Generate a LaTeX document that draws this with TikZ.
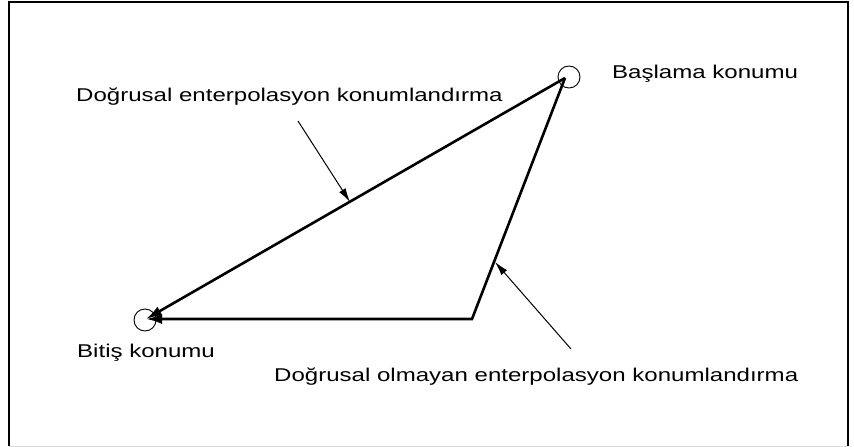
\documentclass[tikz,border=0pt]{standalone}
\usepackage{fontspec}
\setmainfont[FakeStretch=1.3]{Liberation Sans}
\usetikzlibrary{arrows.meta}
\begin{document}
\begin{tikzpicture}[x=1pt,y=-1pt,
  mainline/.style={line width=2.6pt,-{Latex[length=16pt,width=10pt]}},
  leader/.style={line width=1pt,-{Latex[length=14pt,width=7.5pt]}},
  posmark/.style={circle,draw,line width=0.9pt,minimum size=22pt,inner sep=0pt},
  lbl/.style={anchor=base west,inner sep=0pt,font=\fontsize{18.5}{20}\selectfont}]
\useasboundingbox (0,0) rectangle (854,447);
% frame
\draw[line width=1.5pt] (9,446) -- (9,2) -- (848,2) -- (848,446);
\draw[line width=0.8pt,black!15] (9,446) -- (848,446);
% position markers
\node[posmark] (S) at (569,77) {};
\node[posmark] (E) at (145,320) {};
\coordinate (Sp) at (565,78);
\coordinate (Ep) at (146,319);
\coordinate (C) at (472,319);
% paths
\draw[mainline] (Sp) -- (Ep);
\draw[mainline,line join=miter] (Sp) -- (C) -- (Ep);
% labels
\node[lbl] (T1) at (76,101) {Doğrusal enterpolasyon konumlandırma};
\node[lbl] (T2) at (612,78) {Başlama konumu};
\node[lbl] (T3) at (77,357) {Bitiş konumu};
\node[lbl] (T4) at (274,381) {Doğrusal olmayan enterpolasyon konumlandırma};
% leaders
\coordinate (L1a) at (298,121);
\coordinate (L1b) at (350,202);
\coordinate (L2a) at (571,349);
\coordinate (L2b) at (495,262);
\draw[leader] (L1a) -- (L1b);
\draw[leader] (L2a) -- (L2b);
\end{tikzpicture}
\end{document}
